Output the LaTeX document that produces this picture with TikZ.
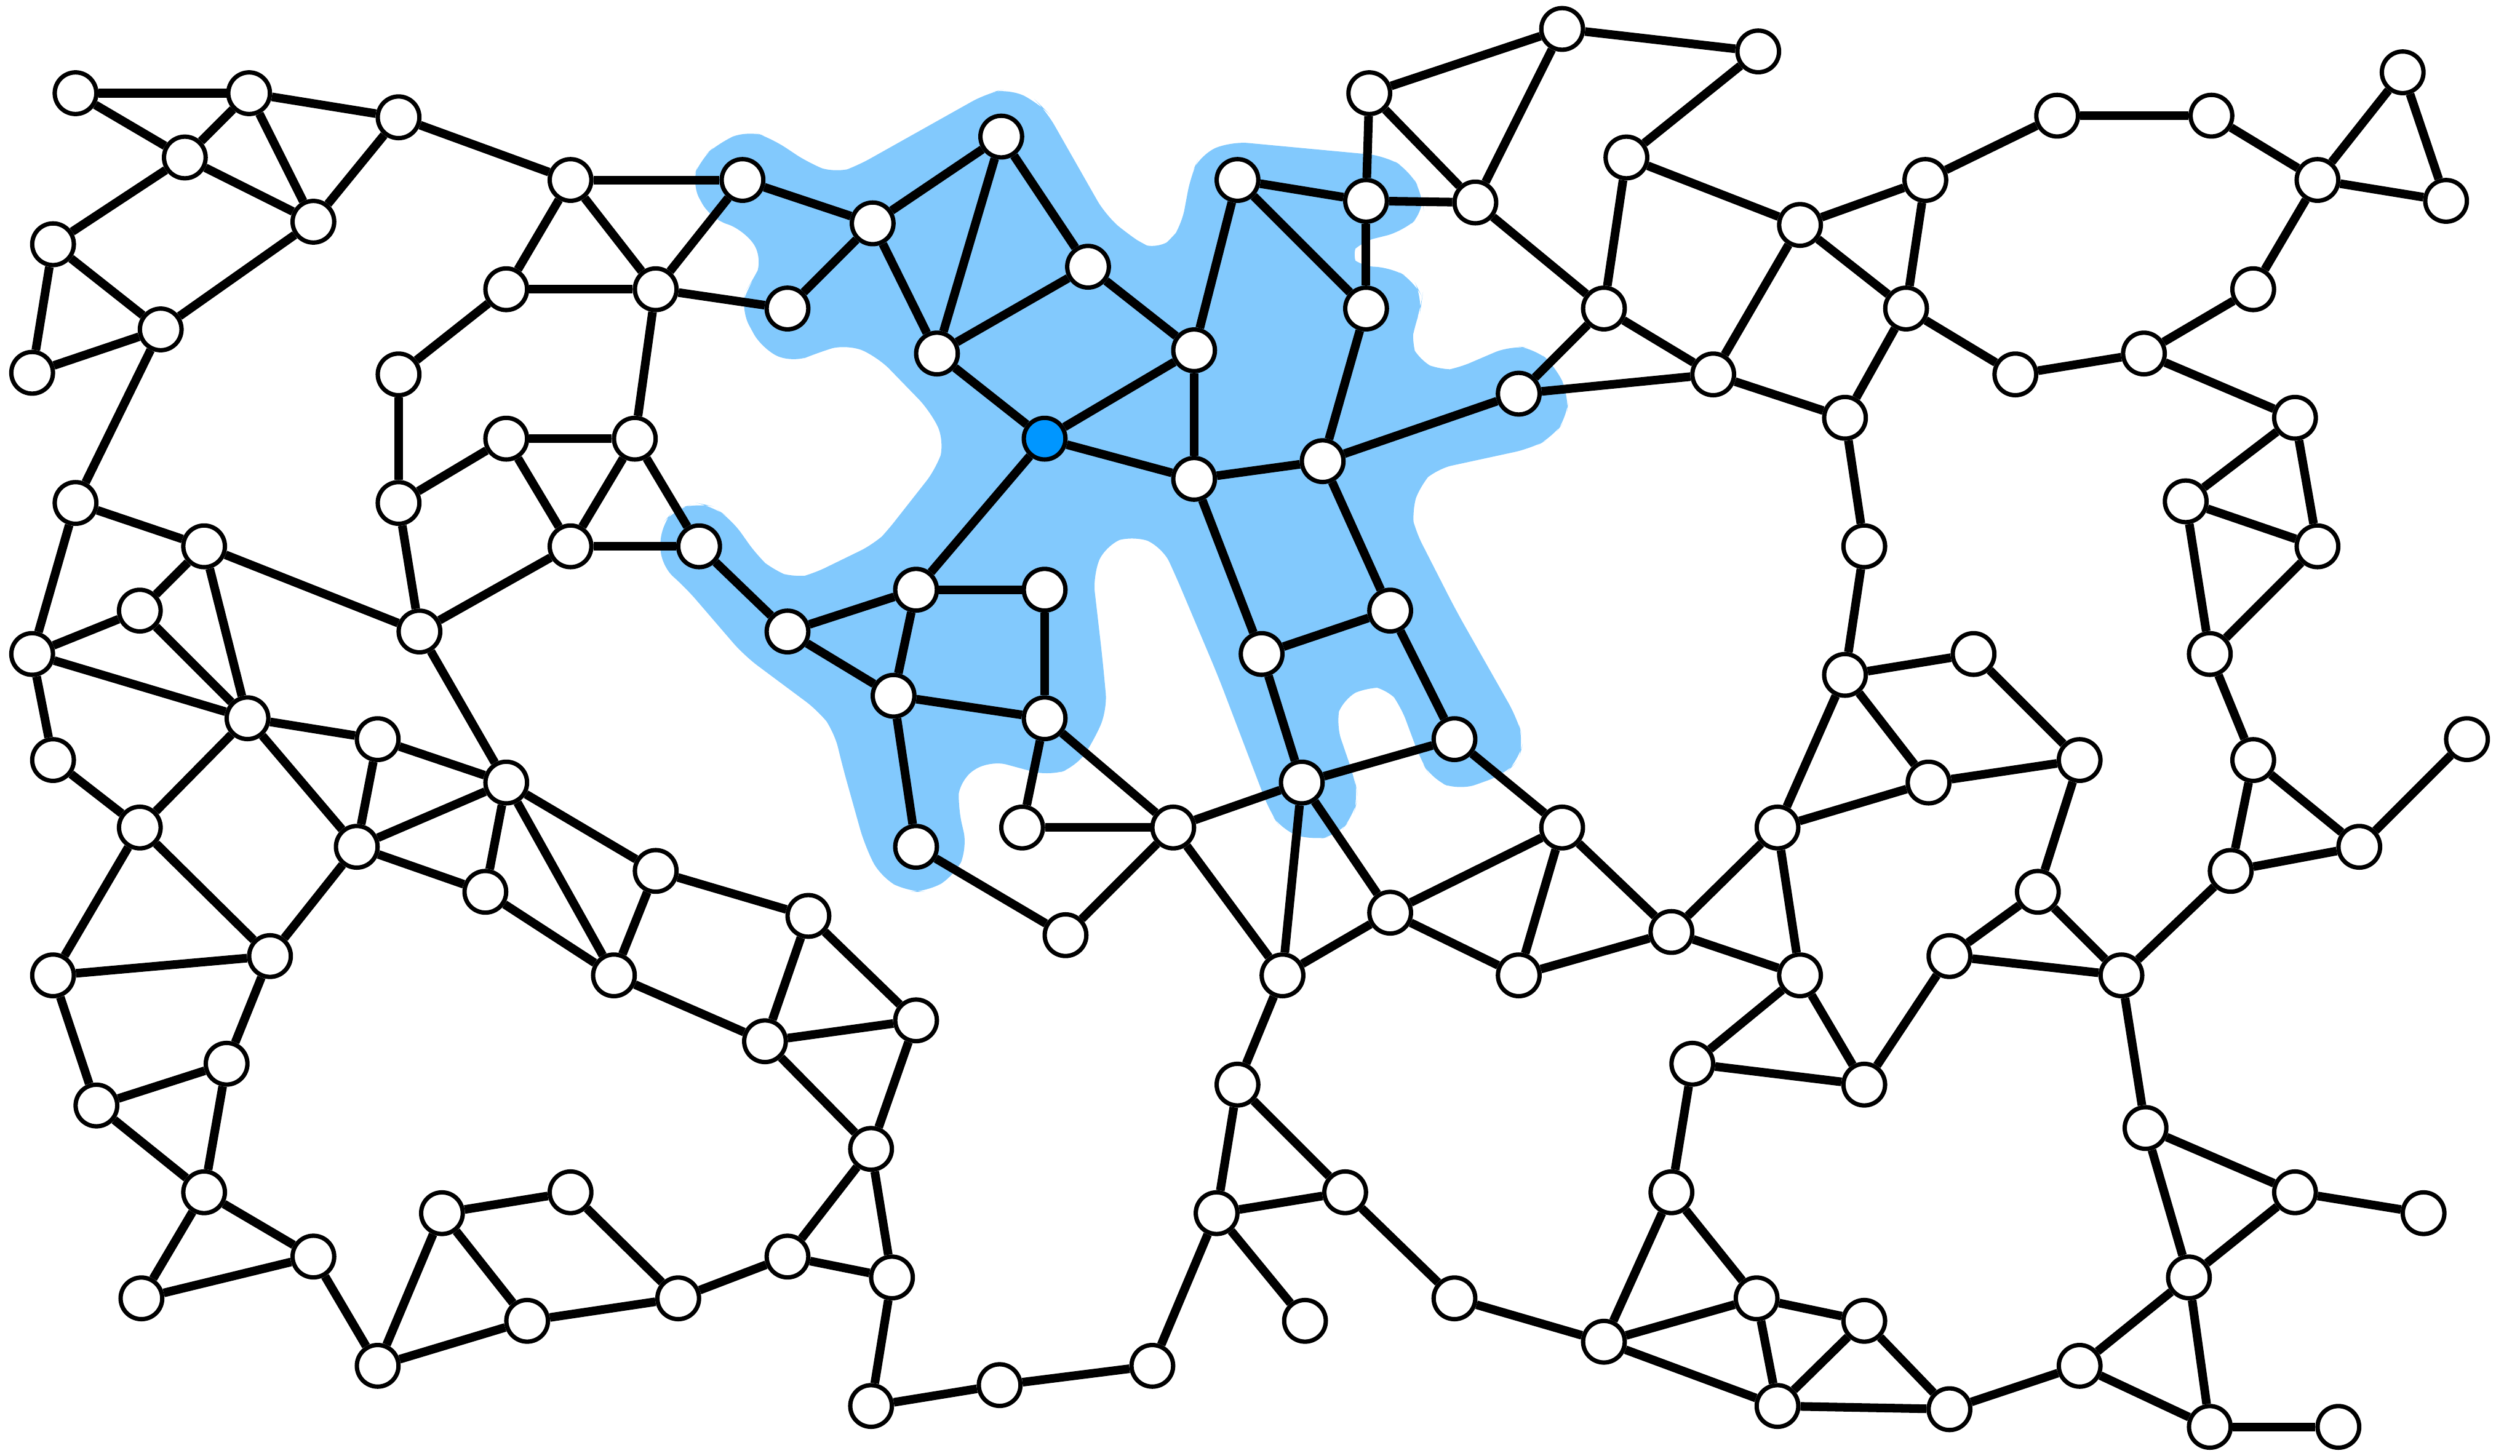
\documentclass[tikz,border=0pt]{standalone}
\definecolor{hl}{RGB}{130,201,253}
\definecolor{hub}{RGB}{0,150,255}
\begin{document}
\begin{tikzpicture}[x=0.01cm,y=-0.01cm,
  v/.style={circle,draw=black,fill=white,line width=0.77pt,minimum size=0.259cm,inner sep=0pt},
  e/.style={line width=1.53pt},
  halo/.style={fill=hl,rounded corners=3pt}]
\useasboundingbox (0,0) rectangle (1568,906);
% highlighted region
\path[halo] (430,114) -- (436,99) -- (447,89) -- (465,81) -- (480,86) -- (504,102) -- (520,108) -- (532,104)
 -- (614,58) -- (628,55) -- (646,64) -- (651,69) -- (688,134) -- (702,146) -- (713,153) -- (720,156)
 -- (730,148) -- (735,141) -- (741,109) -- (747,96) -- (766,88) -- (862,97) -- (877,106) -- (885,121)
 -- (886,132) -- (873,144) -- (845,151) -- (839,159) -- (845,166) -- (865,166) -- (880,175) -- (885,185)
 -- (884,192) -- (879,207) -- (878,214) -- (882,224) -- (897,231) -- (905,230) -- (940,215) -- (955,217)
 -- (968,228) -- (976,246) -- (975,260) -- (966,272) -- (953,279) -- (893,292) -- (884,301) -- (878,319)
 -- (880,329) -- (906,380) -- (944,447) -- (948,461) -- (945,473) -- (936,482) -- (908,492) -- (891,485)
 -- (884,473) -- (871,438) -- (863,428) -- (852,427) -- (835,435) -- (831,450) -- (843,485) -- (845,496)
 -- (842,508) -- (832,520) -- (816,523) -- (798,517) -- (790,505) -- (758,421) -- (731,357) -- (723,340)
 -- (705,333) -- (688,339) -- (680,358) -- (686,410) -- (689,442) -- (680,462) -- (670,477) -- (653,483)
 -- (616,473) -- (597,485) -- (596,502) -- (602,528) -- (594,545) -- (577,555) -- (565,555) -- (548,546)
 -- (538,526) -- (524,476) -- (519,455) -- (510,443) -- (463,408) -- (426,365) -- (411,352) -- (411,327)
 -- (420,317) -- (434,313) -- (443,315) -- (455,323) -- (472,347) -- (481,355) -- (495,360) -- (504,358)
 -- (545,338) -- (550,333) -- (583,291) -- (588,275) -- (579,256) -- (546,222) -- (527,214) -- (510,219)
 -- (493,226) -- (474,217) -- (461,193) -- (464,181) -- (470,172) -- (475,161) -- (463,143) -- (442,136)
 -- cycle;
% nodes
\foreach \n/\x/\y in {n1/47/58,n2/155/58,n3/115/98,n4/248/73,n5/195/138,n6/33/152,n7/20/232,n8/100/205,
 n9/355/112,n10/462/112,n11/315/180,n12/408/180,n13/490/192,n14/248/233,n15/315/273,n16/395/273,
 n17/248/313,n18/355/340,n19/435/340,n20/47/313,n21/127/340,n22/87/380,n23/20/407,n24/261/393,
 n25/154/447,n26/33/473,n27/235/460,n28/315/487,n29/87/515,n30/222/527,n31/302/555,n32/408/542,
 n33/168/595,n34/33/607,n35/382/607,n36/503/570,n37/570/635,n38/476/648,n39/141/662,n40/60/688,
 n41/542/715,n42/127/742,n43/275/755,n44/355/742,n45/195/782,n46/88/808,n47/490/782,n48/555/795,
 n49/328/822,n50/422/808,n51/235/850,n52/542/875,
 m1/623/85,m2/543/139,m3/677/166,m4/583/220,m6/743/218,m7/743/298,m8/770/112,m9/850/125,
 m10/850/192,m11/823/287,m12/945/245,m13/570/367,m14/650/367,m15/490/393,m16/556/433,m17/650/447,
 m18/785/407,m19/865/380,m20/905/460,m21/570/527,m22/636/515,m23/730/515,m24/810/487,m25/663/582,
 r1/852/58,r2/972/18,r3/1094/32,r4/918/126,r5/1012/98,r6/998/192,r7/1120/140,r8/1066/233,
 r9/1198/112,r10/1186/192,r11/1280/72,r12/1376/72,r13/1495/45,r14/1442/112,r15/1522/125,
 r16/1402/180,r17/1254/233,r18/1334/220,r19/1148/260,r20/1428/260,r21/1360/312,r22/1442/340,
 r23/1160/340,r24/1375/407,r25/1148/420,r26/1228/407,r27/1535/460,r28/1402/473,r29/1294/473,
 r30/1200/487,r31/1468/527,r32/1388/542,r33/1106/515,r34/972/515,r35/865/568,r36/1268/555,
 r37/1040/580,r38/945/607,r39/798/607,r40/1213/595,r41/1320/607,r42/1120/607,r43/1053/662,
 r44/1160/675,r45/770/675,r46/1335/702,r47/837/742,r48/1040/742,r49/757/755,r50/1428/742,
 r51/1508/755,r52/905/808,r53/1362/795,r54/1093/808,r55/1160/822,r56/812/822,r57/998/835,
 r58/717/850,r59/1294/850,r60/622/862,r61/1106/875,r62/1213/877,r63/1375/888,r64/1455/888}
  \node[v] (\n) at (\x,\y) {};
\node[v,fill=hub] (m5) at (650,273) {};
% edges
\foreach \a/\b in {n1/n2,n1/n3,n2/n3,n2/n4,n2/n5,n3/n5,n3/n6,n4/n5,n4/n9,n6/n7,n6/n8,n7/n8,n5/n8,n8/n20,
 n9/n10,n9/n11,n9/n12,n10/n12,n10/m2,n11/n12,n11/n14,n12/n13,n12/n16,n13/m2,n14/n17,
 n15/n16,n15/n17,n15/n18,n16/n18,n16/n19,n18/n19,n18/n24,n17/n24,n19/m15,
 n20/n21,n20/n23,n21/n22,n21/n24,n21/n25,n22/n23,n22/n25,n23/n25,n23/n26,n24/n28,
 n25/n27,n25/n29,n25/n30,n26/n29,n27/n28,n27/n30,n28/n30,n28/n31,n28/n35,n28/n32,
 n30/n31,n29/n33,n29/n34,n30/n33,n31/n35,n32/n35,n32/n36,n33/n34,n33/n39,n34/n40,
 n35/n38,n36/n37,n36/n38,n37/n38,n37/n41,n38/n41,n39/n40,n39/n42,n40/n42,n42/n45,
 n42/n46,n45/n46,n45/n51,n43/n44,n43/n49,n43/n51,n44/n50,n49/n51,n49/n50,n50/n47,
 n41/n47,n41/n48,n47/n48,n48/n52,n52/r60,r60/r58,
 m1/m2,m1/m4,m1/m3,m2/m4,m3/m4,m3/m6,m4/m5,m5/m6,m5/m7,m5/m13,m6/m7,m7/m11,m7/m18,
 m8/m6,m8/m9,m8/m10,m9/r1,m9/m10,m9/r4,m10/m11,m11/m12,m11/m19,m12/r8,m12/r6,
 m13/m14,m13/m15,m13/m16,m14/m17,m15/m16,m16/m17,m16/m21,m17/m22,m17/m23,m22/m23,
 m21/m25,m23/m25,m23/m24,m23/r39,m18/m19,m18/m24,m19/m20,m20/m24,m20/r34,m24/r39,m24/r35,
 r1/r2,r1/r4,r2/r3,r2/r4,r3/r5,r4/r6,r5/r6,r5/r7,r6/r8,r7/r8,r7/r9,r7/r10,r9/r10,r9/r11,
 r11/r12,r12/r14,r13/r14,r13/r15,r14/r15,r14/r16,r16/r18,r10/r17,r17/r18,r18/r20,r8/r19,
 r10/r19,r19/r23,r20/r21,r20/r22,r21/r22,r21/r24,r22/r24,r23/r25,r25/r26,r25/r30,r25/r33,
 r26/r29,r29/r30,r29/r36,r30/r33,r24/r28,r28/r31,r28/r32,r27/r31,r31/r32,r32/r41,r36/r40,
 r36/r41,r40/r41,r40/r44,r33/r37,r33/r42,r34/r35,r34/r37,r34/r38,r35/r38,r35/r39,r37/r38,
 r37/r42,r42/r43,r42/r44,r43/r44,r43/r48,r39/r45,r45/r47,r45/r49,r47/r49,r47/r52,r49/r56,
 r49/r58,r52/r57,r48/r57,r48/r54,r54/r57,r54/r55,r54/r61,r57/r61,r61/r62,r55/r61,r55/r62,
 r62/r59,r59/r53,r59/r63,r53/r63,r63/r64,r53/r50,r46/r50,r46/r53,r50/r51,r41/r46}
  \draw[e] (\a) -- (\b);
\end{tikzpicture}
\end{document}
